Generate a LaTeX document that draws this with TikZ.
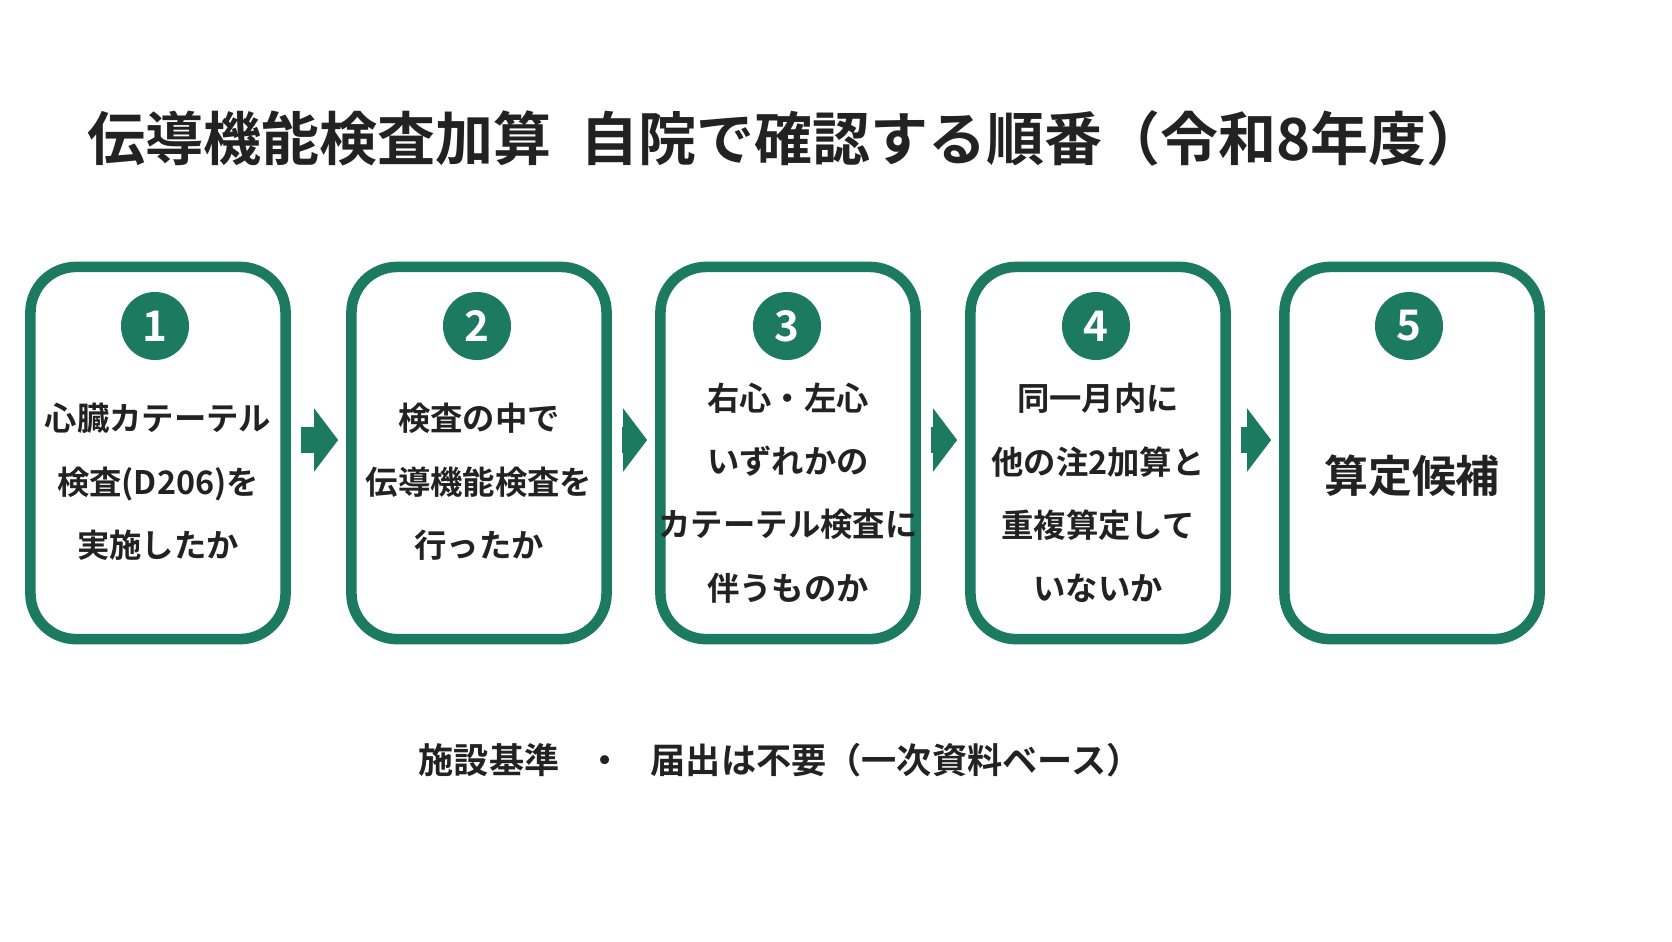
\documentclass[tikz,border=0pt]{standalone}
\usepackage{fontspec}
\setmainfont{Noto Sans CJK JP}[BoldFont={Noto Sans CJK JP Bold}]
\usetikzlibrary{positioning, arrows.meta}
\definecolor{stepgreen}{HTML}{1B7A60}
\definecolor{inkdark}{HTML}{222222}

\begin{document}
\begin{tikzpicture}[
  x=0.01cm, y=-0.01cm,
  every node/.style={font=\bfseries, text=inkdark},
  stepbox/.style={draw=stepgreen, line width=3pt, rounded corners=13pt,
    minimum width=2.55cm, minimum height=3.72cm, fill=white},
  stepnum/.style={circle, fill=stepgreen, minimum size=0.68cm, inner sep=0pt,
    text=white, font=\fontsize{12pt}{12pt}\bfseries},
  steptext/.style={align=center, font=\fontsize{9.2pt}{18pt}\bfseries},
  flow/.style={stepgreen, line width=0.26cm, shorten <=0.1cm, shorten >=0.08cm,
    -{Triangle[width=0.62cm, length=0.24cm]}}
]
\fill[white] (0,0) rectangle (1672,941);
% Title
\node[font=\fontsize{16.5pt}{16.5pt}\bfseries] (title) at (786,138)
  {伝導機能検査加算\hspace{0.5em}自院で確認する順番（令和8年度）};

% Boxes
\node[stepbox] (s1) at (158,453) {};
\node[stepbox] (s2) at (479,453) {};
\node[stepbox] (s3) at (788,453) {};
\node[stepbox] (s4) at (1098,453) {};
\node[stepbox] (s5) at (1412,453) {};

% Numbers
\foreach \i/\x in {1/155, 2/477, 3/787, 4/1096, 5/1409} {
  \node[stepnum] (n\i) at (\x,326) {\i};
}

% Step texts
\node[steptext] (t1) at (158,482) {心臓カテーテル\\検査(D206)を\\実施したか};
\node[steptext] (t2) at (479,482) {検査の中で\\伝導機能検査を\\行ったか};
\node[steptext] (t3) at (788,493) {右心・左心\\いずれかの\\カテーテル検査に\\伴うものか};
\node[steptext] (t4) at (1098,493) {同一月内に\\他の注2加算と\\重複算定して\\いないか};
\node[font=\fontsize{12.5pt}{12.5pt}\bfseries] (t5) at (1412,476) {算定候補};

% Arrows
\coordinate (mid) at (0,440);
\foreach \a/\b in {s1/s2, s2/s3, s3/s4, s4/s5} {
  \draw[flow] (\a.east |- mid) -- (\b.west |- mid);
}

% Note
\node[font=\fontsize{10pt}{10pt}\bfseries] (note) at (780,760)
  {施設基準\hspace{0.8em}・\hspace{0.8em}届出は不要（一次資料ベース）};
\pgfresetboundingbox
\useasboundingbox (0,0) rectangle (1672,941);
\end{tikzpicture}
\end{document}
